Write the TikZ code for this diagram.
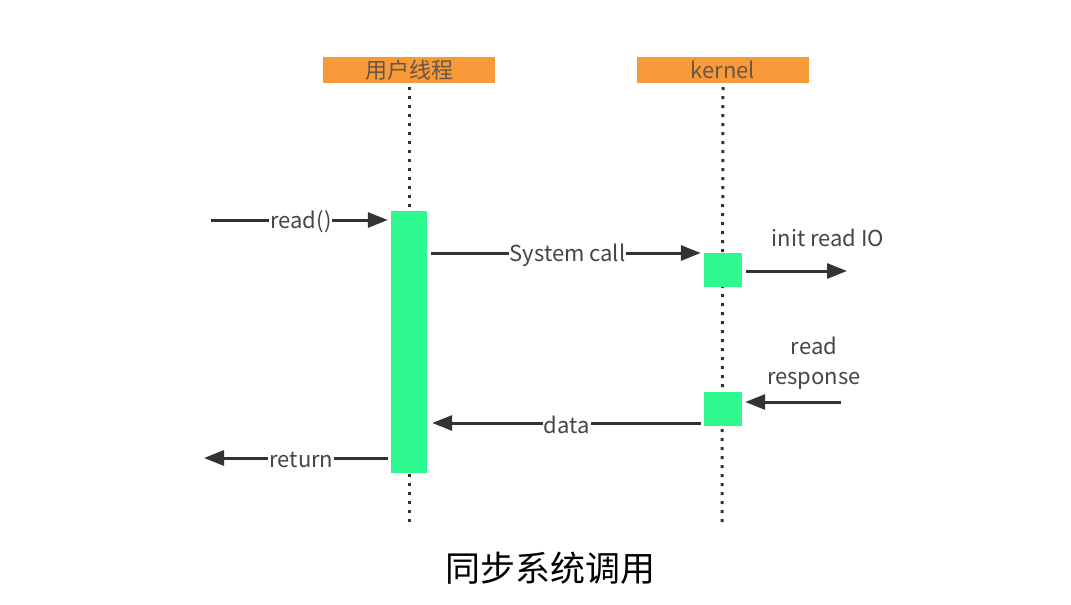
\documentclass[tikz,border=0pt]{standalone}
\usepackage{fontspec}
\setmainfont{Noto Sans CJK SC}
\newfontfamily\cjk{Noto Sans CJK SC}
\usetikzlibrary{arrows.meta}
\definecolor{hdr}{HTML}{F89A3A}
\definecolor{act}{HTML}{2EF98F}
\definecolor{txt}{HTML}{454545}
\definecolor{arr}{HTML}{333333}
\tikzset{
  header/.style={fill=hdr, draw=none, minimum width=172pt, minimum height=26pt, inner sep=0pt, text=txt!80!hdr, font=\fontsize{22}{24}\selectfont},
  lifeline/.style={draw=arr, line width=3pt, dash pattern=on 3pt off 6pt},
  actbox/.style={fill=act, draw=none, inner sep=0pt},
  msg/.style={draw=arr, line width=3pt, -{Triangle[length=20pt,width=15pt]}},
  lbl/.style={fill=white, text=txt, inner sep=1pt, font=\fontsize{22}{26}\selectfont},
  freetxt/.style={text=txt, font=\fontsize{22}{26}\selectfont},
}
\begin{document}
\begin{tikzpicture}[x=1pt,y=-1pt]
\useasboundingbox (0,0) rectangle (1071,605);
% headers
\node[header] (h1) at (409,70) {用户线程};
\node[header] (h2) at (723,70) {kernel};
% lifelines
\coordinate (l1e) at (409,522);
\coordinate (l2e) at (722,522);
\draw[lifeline] (h1.south) ++(0,4) -- (l1e);
\draw[lifeline] (h2.south) ++(0,4) -- (l2e);
% activation bars
\node[actbox, minimum width=36pt, minimum height=262pt] (a1) at (409,342) {};
\node[actbox, minimum width=38pt, minimum height=34pt] (k1) at (723,270) {};
\node[actbox, minimum width=38pt, minimum height=34pt] (k2) at (723,409) {};
% free ends
\coordinate (readS) at (211,220);
\coordinate (ioE) at (847,271);
\coordinate (rrS) at (841,402);
\coordinate (retE) at (204,458);
% messages
\draw[msg, shorten >=3pt] (readS) -- node[lbl, pos=0.5, yshift=-2pt] (t1) {read()} (a1.west |- readS);
\draw[msg, shorten >=3pt] (a1.east |- 0,253) ++(4,0) -- node[lbl, pos=0.5, yshift=-2pt] (t2) {System call} (k1.west |- 0,253);
\draw[msg] (k1.east |- ioE) ++(4,0) -- (ioE);
\node[freetxt] (t3) at (828,238) {init read IO};
\draw[msg, shorten >=3pt] (rrS) -- (k2.east |- rrS);
\node[freetxt, align=center] (t4) at (814,363) {read\\[4pt]response};
\draw[msg, shorten >=5pt] (k2.west |- 0,423) ++(-3,0) -- node[lbl, pos=0.49, yshift=-2pt] (t5) {data} (a1.east |- 0,423);
\draw[msg] (a1.west |- 0,458) ++(-3,0) -- node[lbl, pos=0.47, yshift=-2pt] (t6) {return} (retE);
% caption
\node[text=black, font=\cjk\fontsize{35}{38}\selectfont] (cap) at (550,568) {同步系统调用};
\end{tikzpicture}
\end{document}
